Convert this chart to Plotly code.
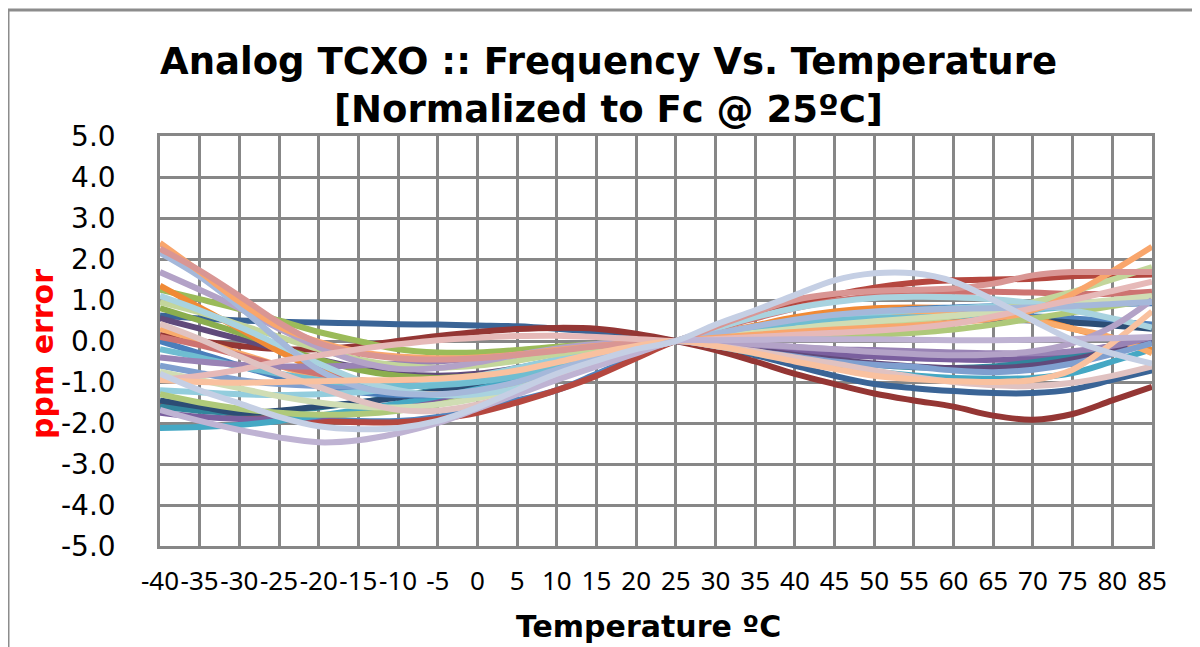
import plotly.graph_objects as go

temps = [-40, -35, -30, -25, -20, -15, -10, -5, 0, 5, 10, 15, 20, 25,
         30, 35, 40, 45, 50, 55, 60, 65, 70, 75, 80, 85]
y_ticks = [5, 4, 3, 2, 1, 0, -1, -2, -3, -4, -5]

s01 = [2.39, 1.69, 0.96, 0.35, -0.02, -0.26, -0.38, -0.42, -0.40, -0.33, -0.22, -0.12, -0.05, 0, 0.08, 0.15, 0.22, 0.28, 0.33, 0.38, 0.45, 0.55, 0.75, 1.15, 1.7, 2.3]
s02 = [2.15, 1.57, 0.84, 0.02, -0.71, -1.11, -1.28, -1.3, -1.2, -1.0, -0.7, -0.42, -0.18, 0, 0.18, 0.36, 0.52, 0.64, 0.72, 0.76, 0.78, 0.8, 0.82, 0.85, 0.9, 0.95]
s03 = [1.68, 1.25, 0.8, 0.3, -0.15, -0.5, -0.68, -0.66, -0.52, -0.34, -0.18, -0.07, -0.02, 0, -0.03, -0.08, -0.14, -0.2, -0.27, -0.32, -0.35, -0.33, -0.25, -0.05, 0.35, 1.0]
s04 = [1.35, 0.82, 0.3, -0.25, -0.7, -0.98, -1.1, -1.05, -0.92, -0.72, -0.48, -0.27, -0.11, 0, 0.18, 0.38, 0.58, 0.72, 0.8, 0.82, 0.8, 0.72, 0.55, 0.3, 0.05, -0.22]
s05 = [1.25, 1.02, 0.78, 0.5, 0.22, 0.0, -0.2, -0.28, -0.28, -0.22, -0.14, -0.07, -0.02, 0, 0.1, 0.2, 0.32, 0.45, 0.55, 0.65, 0.75, 0.82, 0.88, 0.92, 0.95, 0.98]
s06 = [1.1, 0.75, 0.35, -0.1, -0.55, -0.95, -1.2, -1.32, -1.3, -1.15, -0.85, -0.52, -0.22, 0, 0.3, 0.58, 0.8, 0.95, 1.05, 1.08, 1.07, 1.02, 0.92, 0.75, 0.55, 0.33]
s07 = [0.95, 0.7, 0.4, 0.1, -0.2, -0.45, -0.6, -0.65, -0.6, -0.48, -0.32, -0.17, -0.06, 0, 0.08, 0.15, 0.22, 0.3, 0.38, 0.48, 0.6, 0.75, 0.95, 1.2, 1.5, 1.8]
s08 = [0.62, 0.55, 0.5, 0.47, 0.45, 0.43, 0.41, 0.4, 0.38, 0.36, 0.3, 0.22, 0.1, 0, -0.15, -0.35, -0.6, -0.85, -1.05, -1.15, -1.22, -1.27, -1.27, -1.18, -0.95, -0.72]
s09 = [0.15, 0.0, -0.12, -0.2, -0.2, -0.12, 0.0, 0.12, 0.22, 0.29, 0.32, 0.3, 0.18, 0, -0.22, -0.5, -0.8, -1.05, -1.28, -1.45, -1.6, -1.82, -1.92, -1.78, -1.45, -1.12]
s10 = [-1.5, -1.65, -1.8, -1.9, -1.95, -1.98, -1.98, -1.9, -1.75, -1.5, -1.2, -0.85, -0.42, 0, 0.28, 0.6, 0.9, 1.12, 1.3, 1.42, 1.48, 1.5, 1.52, 1.58, 1.6, 1.62]
s11 = [2.25, 1.72, 1.1, 0.45, -0.05, -0.3, -0.42, -0.45, -0.42, -0.34, -0.24, -0.13, -0.05, 0, 0.35, 0.7, 1.0, 1.15, 1.22, 1.25, 1.28, 1.4, 1.6, 1.68, 1.68, 1.68]
s12 = [-0.95, -1.0, -1.02, -1.0, -0.98, -0.96, -0.95, -0.92, -0.85, -0.72, -0.52, -0.3, -0.12, 0, -0.12, -0.3, -0.5, -0.68, -0.85, -0.93, -0.98, -1.0, -0.95, -0.7, -0.05, 0.72]
s13 = [-0.95, -0.85, -0.7, -0.5, -0.35, -0.2, -0.08, 0.02, 0.08, 0.12, 0.13, 0.1, 0.05, 0, 0.05, 0.1, 0.15, 0.2, 0.25, 0.32, 0.42, 0.6, 0.8, 1.0, 1.22, 1.45]
s14 = [0.42, 0.05, -0.38, -0.78, -1.12, -1.45, -1.68, -1.7, -1.55, -1.28, -0.92, -0.55, -0.22, 0, -0.12, -0.25, -0.4, -0.55, -0.72, -0.88, -1.0, -1.08, -1.1, -1.02, -0.85, -0.62]
s15 = [-0.8, -1.2, -1.52, -1.85, -2.08, -2.15, -2.12, -1.95, -1.62, -1.2, -0.8, -0.48, -0.2, 0, 0.4, 0.75, 1.12, 1.48, 1.65, 1.65, 1.45, 1.0, 0.5, 0.02, -0.3, -0.55]
s16 = [-1.68, -1.95, -2.17, -2.35, -2.47, -2.42, -2.25, -2.0, -1.65, -1.3, -0.95, -0.62, -0.3, 0, 0.02, 0.03, 0.04, 0.04, 0.04, 0.03, 0.02, 0.02, 0.03, 0.05, 0.07, 0.1]
s17 = [-2.12, -2.1, -2.05, -1.95, -1.82, -1.68, -1.52, -1.35, -1.15, -0.92, -0.66, -0.4, -0.17, 0, -0.12, -0.3, -0.48, -0.62, -0.75, -0.84, -0.9, -0.92, -0.9, -0.78, -0.5, -0.2]
s18 = [-1.75, -1.85, -1.9, -1.9, -1.85, -1.75, -1.6, -1.42, -1.2, -0.95, -0.68, -0.42, -0.18, 0, -0.08, -0.18, -0.26, -0.33, -0.38, -0.42, -0.45, -0.46, -0.42, -0.3, -0.12, 0.05]
s19 = [-1.55, -1.6, -1.68, -1.78, -1.88, -1.95, -1.95, -1.85, -1.65, -1.45, -1.2, -0.8, -0.38, 0, 0.12, 0.25, 0.38, 0.48, 0.55, 0.6, 0.62, 0.62, 0.6, 0.55, 0.48, 0.4]
s20 = [-1.6, -1.7, -1.75, -1.72, -1.62, -1.5, -1.35, -1.18, -1.0, -0.8, -0.58, -0.36, -0.16, 0, -0.1, -0.22, -0.36, -0.48, -0.58, -0.64, -0.66, -0.62, -0.52, -0.38, -0.2, -0.05]
s21 = [-1.45, -1.6, -1.75, -1.7, -1.6, -1.5, -1.38, -1.22, -1.02, -0.8, -0.56, -0.34, -0.15, 0, 0.1, 0.2, 0.3, 0.38, 0.45, 0.5, 0.52, 0.52, 0.5, 0.45, 0.38, 0.3]
s22 = [-1.2, -1.25, -1.3, -1.32, -1.3, -1.25, -1.15, -1.02, -0.85, -0.66, -0.45, -0.26, -0.1, 0, 0.15, 0.3, 0.45, 0.58, 0.68, 0.75, 0.8, 0.85, 0.9, 0.93, 0.96, 0.98]
s23 = [-0.6, -0.78, -0.95, -1.05, -1.1, -1.12, -1.1, -1.04, -0.92, -0.75, -0.52, -0.3, -0.12, 0, -0.12, -0.25, -0.38, -0.5, -0.58, -0.63, -0.72, -0.76, -0.7, -0.55, -0.32, -0.05]
s24 = [0.1, -0.1, -0.35, -0.6, -0.8, -0.95, -1.02, -1.0, -0.9, -0.72, -0.5, -0.28, -0.1, 0, 0.3, 0.55, 0.8, 0.98, 1.1, 1.18, 1.2, 1.2, 1.18, 1.15, 1.15, 1.2]
s25 = [-0.4, -0.5, -0.58, -0.62, -0.62, -0.6, -0.55, -0.5, -0.42, -0.33, -0.22, -0.12, -0.04, 0, -0.05, -0.1, -0.15, -0.2, -0.22, -0.25, -0.28, -0.3, -0.3, -0.25, -0.12, 0.1]
s26 = [-1.3, -1.5, -1.65, -1.75, -1.8, -1.78, -1.7, -1.55, -1.35, -1.1, -0.8, -0.5, -0.22, 0, 0.05, 0.08, 0.1, 0.12, 0.15, 0.2, 0.28, 0.4, 0.55, 0.7, 0.85, 1.0]
s27 = [0.3, 0.0, -0.3, -0.6, -0.9, -1.1, -1.25, -1.3, -1.25, -1.1, -0.85, -0.55, -0.25, 0, 0.12, 0.25, 0.38, 0.5, 0.58, 0.62, 0.65, 0.62, 0.5, 0.3, 0.08, -0.3]
s28 = [-0.2, -0.4, -0.62, -0.8, -0.95, -1.05, -1.1, -1.08, -1.0, -0.85, -0.62, -0.38, -0.15, 0, 0.15, 0.3, 0.42, 0.5, 0.55, 0.58, 0.6, 0.65, 0.75, 0.85, 0.92, 0.96]
s29 = [0.55, 0.3, 0.05, -0.2, -0.45, -0.65, -0.8, -0.85, -0.8, -0.66, -0.46, -0.26, -0.1, 0, -0.1, -0.22, -0.34, -0.45, -0.55, -0.62, -0.66, -0.66, -0.6, -0.45, -0.25, -0.02]
s30 = [0.0, -0.3, -0.6, -0.88, -1.1, -1.25, -1.32, -1.32, -1.25, -1.1, -0.85, -0.55, -0.25, 0, 0.15, 0.32, 0.48, 0.6, 0.7, 0.78, 0.82, 0.85, 0.86, 0.88, 0.9, 0.92]
s31 = [-0.75, -0.95, -1.15, -1.35, -1.5, -1.6, -1.62, -1.55, -1.4, -1.15, -0.85, -0.52, -0.22, 0, 0.1, 0.2, 0.3, 0.4, 0.48, 0.55, 0.62, 0.7, 0.8, 0.9, 1.0, 1.1]
s32 = [0.8, 0.5, 0.2, -0.15, -0.45, -0.7, -0.85, -0.9, -0.85, -0.7, -0.5, -0.28, -0.1, 0, 0.08, 0.18, 0.3, 0.42, 0.52, 0.6, 0.68, 0.75, 0.82, 0.88, 0.92, 0.95]

# drawing order (later drawn on top) and colours
series = [s08, s09, s19, s10, s18, s17, s20, s21, s29, s32, s05, s04, s30, s27,
          s24, s23, s22, s28, s25, s26, s07, s31, s06, s03, s02, s01, s11, s13,
          s14, s12, s16, s15]
colors = ["#3A6496", "#943634", "#4F81BD", "#B5473F", "#7A5F9E", "#45A8C4", "#31859C",
          "#2C4D75", "#604A7B", "#8BAE4E", "#9BBB59", "#F08A35", "#4A7EBB", "#F9AB6B",
          "#CD7371", "#7F9FCF", "#93CDDD", "#6FBDD1", "#9983B5", "#AFC97A", "#C3D69B",
          "#D0DDB4", "#A9D3DF", "#B3A2C7", "#A5B8DA", "#F9A66C", "#D99694", "#E6B9B8",
          "#E0C2C1", "#F9C19F", "#BFB3D3", "#C5CFE4"]

fig = go.Figure()
for vals, col in zip(series, colors):
    fig.add_trace(go.Scatter(x=temps, y=vals, mode="lines",
                             line=dict(color=col, width=6, shape="spline", smoothing=1.0),
                             showlegend=False, hoverinfo="skip"))

# the page body has an 8px margin: work in figure coordinates = screen - 8
OFF = 8
W, H = 1200 - OFF, 647 - OFF
L, R, T, B = 160 - OFF, 1152 - OFF, 136 - OFF, 546 - OFF
pw, ph = R - L, B - T

def px(x):
    return (x - OFF - L) / pw

def py(y):
    return (B - (y - OFF)) / ph

grid = "#878787"
fig.update_layout(
    width=W, height=H,
    margin=dict(l=L, r=W - R, t=T, b=H - B, pad=0),
    paper_bgcolor="white", plot_bgcolor="white",
    xaxis=dict(range=[-40, 85], tickmode="array", tickvals=temps,
               ticktext=[str(t) for t in temps], tickangle=0,
               showgrid=True, gridcolor=grid, gridwidth=2.5,
               showline=True, linecolor=grid, linewidth=2.5, mirror=True,
               zeroline=False, ticks="", ticklabelstandoff=10,
               tickfont=dict(family="Noto Sans", size=26, color="black")),
    yaxis=dict(range=[-5, 5], tickmode="array", tickvals=y_ticks,
               ticktext=["%.1f" % v for v in y_ticks],
               showgrid=True, gridcolor=grid, gridwidth=2.5,
               showline=True, linecolor=grid, linewidth=2.5, mirror=True,
               zeroline=False, ticks="", ticklabelstandoff=36,
               tickfont=dict(family="DejaVu Sans", size=28, color="black")),
    annotations=[
        dict(text="<b>Analog TCXO :: Frequency Vs. Temperature<br>[Normalized to Fc @ 25ºC]</b>",
             x=px(608), y=py(86), xref="paper", yref="paper", showarrow=False,
             xanchor="center", yanchor="middle",
             font=dict(family="DejaVu Sans", size=37, color="black")),
        dict(text="<b>ppm error</b>", x=px(42), y=py(354), xref="paper", yref="paper",
             showarrow=False, textangle=-90, xanchor="center", yanchor="middle",
             font=dict(family="DejaVu Sans", size=30, color="#FF0000")),
        dict(text="<b>Temperature ºC</b>", x=px(648), y=py(626), xref="paper", yref="paper",
             showarrow=False, xanchor="center", yanchor="middle",
             font=dict(family="DejaVu Sans", size=30, color="black")),
    ],
    shapes=[
        dict(type="line", xref="paper", yref="paper", x0=px(8), x1=px(8), y0=py(10), y1=py(700),
             line=dict(color="#8C8C8C", width=3)),
        dict(type="line", xref="paper", yref="paper", x0=px(8), x1=px(1250), y0=py(10), y1=py(10),
             line=dict(color="#8C8C8C", width=3)),
    ],
)

fig.write_html("out.html")
